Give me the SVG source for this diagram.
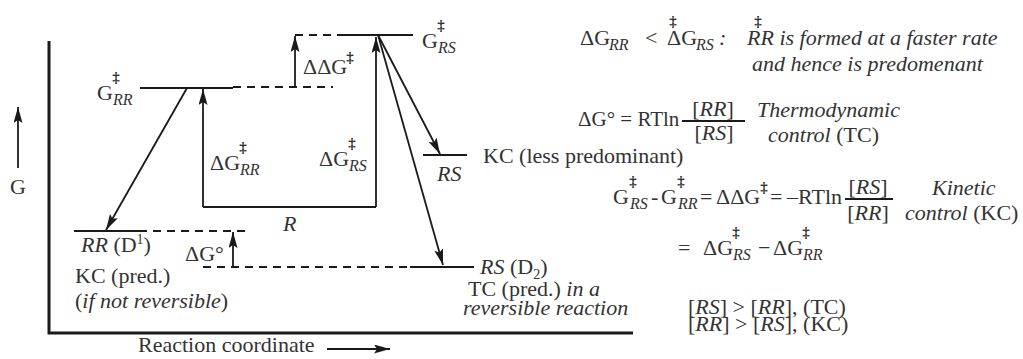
<svg xmlns="http://www.w3.org/2000/svg" width="1023" height="359" viewBox="0 0 1023 359">
<style>
text{font-family:"Liberation Serif","DejaVu Serif",serif;font-size:22px;fill:#333}
.i{font-style:italic}
.s{font-size:16px;font-style:italic}
.sr{font-size:14px}
.dg{font-size:15px;font-weight:bold;text-anchor:middle;fill:#2a2a2a}
.ln{stroke:#1a1a1a;stroke-width:2;fill:none}
.ax{stroke:#1a1a1a;stroke-width:3;fill:none}
.ds{stroke:#1a1a1a;stroke-width:2;fill:none;stroke-dasharray:8 6}
.ar{stroke:#1a1a1a;stroke-width:1.8;fill:none;marker-end:url(#ah)}
</style>
<defs>
<marker id="ah" markerUnits="userSpaceOnUse" markerWidth="18" markerHeight="10" refX="16" refY="4.5" orient="auto">
<path d="M0,0 L16,4.5 L0,9 L3,4.5 z" fill="#1a1a1a"/>
</marker>
</defs>
<rect width="1023" height="359" fill="#fff"/>

<g id="axes">
<polyline class="ax" points="49,41 49,333 633,333"/>
<text x="18" y="194" text-anchor="middle">G</text>
<text x="138" y="352">Reaction coordinate</text>
</g>

<g id="level-GRR">
<line class="ln" x1="140" y1="88" x2="233" y2="88"/>
<line class="ds" x1="233" y1="87" x2="333" y2="87"/>
<text x="97" y="100">G</text><text class="dg" x="116" y="82">‡</text><text class="s" x="113" y="105">RR</text>
</g>

<g id="level-GRS">
<line class="ds" x1="295" y1="35" x2="342" y2="35"/>
<line class="ln" x1="342" y1="35" x2="413" y2="35"/>
<text x="422" y="48">G</text><text class="dg" x="441" y="30">‡</text><text class="s" x="438" y="53">RS</text>
</g>

<g id="level-RS-KC">
<line class="ln" x1="423" y1="155" x2="467" y2="155"/>
<text x="437" y="181" class="i">RS</text>
<text x="483" y="163">KC (less predominant)</text>
</g>

<g id="level-RR">
<line class="ln" x1="74" y1="231" x2="139" y2="231"/>
<line class="ds" x1="139" y1="231" x2="250" y2="231"/>
<text x="81" y="252"><tspan class="i">RR</tspan> (D<tspan class="sr" dy="-8">1</tspan><tspan dy="8">)</tspan></text>
<text x="75" y="283">KC (pred.)</text>
<text x="75" y="308">(<tspan class="i">if not reversible</tspan>)</text>
</g>

<g id="level-RS-TC">
<line class="ds" x1="203" y1="267" x2="410" y2="267"/>
<line class="ln" x1="410" y1="267" x2="474" y2="267"/>
<text x="480" y="274"><tspan class="i">RS</tspan> (D<tspan class="sr" dy="5">2</tspan><tspan dy="-5">)</tspan></text>
<text x="468" y="296">TC (pred.) <tspan class="i">in a</tspan></text>
<text x="463" y="315" class="i">reversible reaction</text>
</g>

<g id="reactant-R">
<line class="ln" x1="203" y1="207" x2="376" y2="207"/>
<text x="283" y="231" class="i">R</text>
</g>

<g id="labels">
<text x="210" y="170">ΔG</text><text class="dg" x="243" y="152">‡</text><text class="s" x="240" y="175">RR</text>
<text x="319" y="166">ΔG</text><text class="dg" x="352" y="148">‡</text><text class="s" x="349" y="171">RS</text>
<text x="303" y="74">ΔΔG</text><text class="dg" x="350" y="62">‡</text>
<text x="185" y="261">ΔG°</text>
</g>

<g id="connectors">
<line class="ar" x1="18" y1="168" x2="18" y2="107"/>
<line class="ar" x1="327" y1="349" x2="390" y2="349"/>
<line class="ar" x1="187" y1="88" x2="106" y2="230"/>
<line class="ar" x1="203" y1="207" x2="203" y2="89"/>
<line class="ar" x1="376" y1="207" x2="376" y2="37"/>
<line class="ar" x1="295" y1="87" x2="295" y2="36"/>
<line class="ar" x1="233" y1="267" x2="233" y2="232"/>
<line class="ar" x1="378" y1="35" x2="440" y2="154"/>
<line class="ar" x1="378" y1="35" x2="443" y2="265"/>
</g>

<g id="equations">
<text x="580" y="45">ΔG</text><text class="s" x="609" y="50">RR</text>
<text x="645" y="45">&lt;</text>
<text x="667" y="45">ΔG</text><text class="s" x="696" y="50">RS</text>
<text x="719" y="45" class="i">:</text>
<text x="673" y="26" class="dg">‡</text>
<text x="758" y="26" class="dg">‡</text>
<text x="747" y="45" class="i">RR is formed at a faster rate</text>
<text x="752" y="71" class="i">and hence is predomenant</text>

<text x="578" y="126" style="font-size:21px">ΔG° = RTln</text>
<text x="713" y="116" text-anchor="middle">[<tspan class="i">RR</tspan>]</text>
<line class="ln" x1="682" y1="121" x2="745" y2="121" stroke-width="1.6"/>
<text x="714" y="140" text-anchor="middle">[<tspan class="i">RS</tspan>]</text>
<text x="757" y="117" class="i">Thermodynamic</text>
<text x="768" y="142"><tspan class="i">control</tspan> (TC)</text>

<text x="613" y="204">G</text><text class="dg" x="633" y="186">‡</text><text class="s" x="630" y="209">RS</text>
<text x="651" y="204">-</text>
<text x="661" y="204">G</text><text class="dg" x="681" y="186">‡</text><text class="s" x="678" y="209">RR</text>
<text x="700" y="204">=</text>
<text x="716" y="204">ΔΔG</text><text class="dg" x="764" y="192">‡</text>
<text x="770" y="204">=</text>
<text x="842" y="204" text-anchor="end">–RTln</text>
<text x="868" y="194" text-anchor="middle">[<tspan class="i">RS</tspan>]</text>
<line class="ln" x1="845" y1="199" x2="893" y2="199" stroke-width="1.6"/>
<text x="868" y="220" text-anchor="middle">[<tspan class="i">RR</tspan>]</text>
<text x="932" y="195" class="i">Kinetic</text>
<text x="905" y="220"><tspan class="i">control</tspan> (KC)</text>

<text x="678" y="255">=</text>
<text x="703" y="255">ΔG</text><text class="dg" x="736" y="237">‡</text><text class="s" x="733" y="260">RS</text>
<text x="758" y="255">−</text>
<text x="773" y="255">ΔG</text><text class="dg" x="806" y="237">‡</text><text class="s" x="803" y="260">RR</text>

<text x="688" y="314">[<tspan class="i">RS</tspan>] &gt; [<tspan class="i">RR</tspan>], (TC)</text>
<text x="688" y="331">[<tspan class="i">RR</tspan>] &gt; [<tspan class="i">RS</tspan>], (KC)</text>
</g>
</svg>
